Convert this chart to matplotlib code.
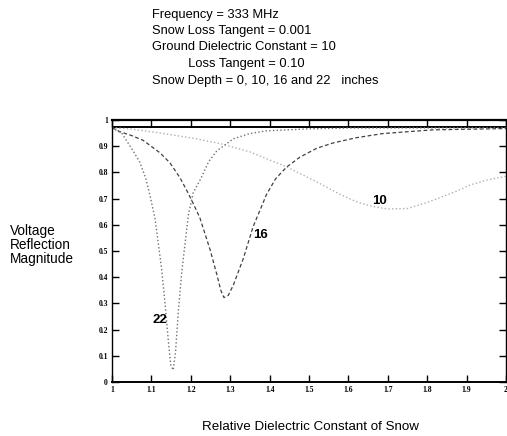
import numpy as np
import matplotlib
matplotlib.use('Agg')
import matplotlib.pyplot as plt

# (relative dielectric constant of snow vs |reflection|)
eps_0 = [1.0, 2.0]
mag_0 = [0.972, 0.972]

eps_10 = [1.0, 1.05, 1.122, 1.206, 1.274, 1.35, 1.444, 1.52, 1.58, 1.62, 1.66,
          1.70, 1.75, 1.80, 1.865, 1.91, 1.95, 2.0]
mag_10 = [0.970, 0.965, 0.950, 0.930, 0.910, 0.878, 0.82, 0.763, 0.715, 0.688,
          0.67, 0.66, 0.662, 0.685, 0.722, 0.752, 0.77, 0.785]

eps_16 = [1.0, 1.02, 1.05, 1.079, 1.122, 1.147, 1.173, 1.193, 1.208, 1.223,
          1.249, 1.266, 1.276, 1.284, 1.295, 1.308, 1.333, 1.358, 1.392, 1.415,
          1.443, 1.477, 1.52, 1.561, 1.62, 1.688, 1.815, 2.0]
mag_16 = [0.970, 0.955, 0.940, 0.922, 0.874, 0.836, 0.778, 0.721, 0.675, 0.626,
          0.504, 0.41, 0.35, 0.322, 0.33, 0.37, 0.47, 0.592, 0.715, 0.775,
          0.82, 0.858, 0.892, 0.912, 0.932, 0.948, 0.962, 0.967]

eps_22 = [1.0, 1.025, 1.05, 1.07, 1.085, 1.095, 1.109, 1.126, 1.135, 1.143,
          1.149, 1.155, 1.161, 1.168, 1.177, 1.194, 1.206, 1.225, 1.245, 1.266,
          1.308, 1.35, 1.39, 1.5, 1.6, 2.0]
mag_22 = [0.970, 0.948, 0.89, 0.84, 0.78, 0.72, 0.625, 0.43, 0.29, 0.155,
          0.065, 0.045, 0.11, 0.265, 0.42, 0.64, 0.722, 0.775, 0.84, 0.882,
          0.928, 0.948, 0.958, 0.966, 0.969, 0.970]

depth_labels = ['10', '16', '22']
label_pos = [(1.68, 0.69), (1.378, 0.56), (1.122, 0.237)]

header = ['Frequency = 333 MHz',
          'Snow Loss Tangent = 0.001',
          'Ground Dielectric Constant = 10',
          '          Loss Tangent = 0.10',
          'Snow Depth = 0, 10, 16 and 22   inches']

# setup figure
fig = plt.figure(figsize=(5.07, 4.36), dpi=100)
ax = fig.add_axes([0.221, 0.124, 0.777, 0.601])

ax.plot(eps_0, mag_0, '-', color='black', lw=1.4)
ax.plot(eps_10, mag_10, ':', color='#b0b0b0', lw=1.0)
ax.plot(eps_16, mag_16, '--', color='#404040', lw=0.9, dashes=(3, 2))
ax.plot(eps_22, mag_22, ':', color='#707070', lw=1.0)

for lab, (x, y) in zip(depth_labels, label_pos):
    ax.text(x, y, lab, fontsize=9.5, family='Liberation Sans', weight='bold',
            ha='center', va='center')

ax.set_xlim(1, 2)
ax.set_ylim(0, 1)
ax.set_xticks(np.arange(1, 2.01, 0.1))
ax.set_yticks(np.arange(0, 1.01, 0.1))
ax.set_xticklabels(['1', '1.1', '1.2', '1.3', '1.4', '1.5', '1.6', '1.7',
                    '1.8', '1.9', '2'])
ax.set_yticklabels(['0', '0.1', '0.2', '0.3', '0.4', '0.5', '0.6', '0.7',
                    '0.8', '0.9', '1'])
ax.tick_params(direction='in', length=5, width=1.0, top=True, right=True,
               labelsize=5.5, pad=3)
for lbl in ax.get_xticklabels() + ax.get_yticklabels():
    lbl.set_family('Liberation Serif')
    lbl.set_weight('bold')
for s in ax.spines.values():
    s.set_linewidth(1.0)
ax.spines['top'].set_linewidth(1.6)
ax.spines['bottom'].set_linewidth(1.4)

# header block
ys = [15, 31, 47, 64, 81]
for txt, yp in zip(header, ys):
    fig.text(152 / 507, 1 - yp / 436, txt, fontsize=9.3, family='Liberation Sans',
             ha='left', va='center')

fig.text(10 / 507, 1 - 245 / 436, 'Voltage\nReflection\nMagnitude', fontsize=9.8,
         family='Liberation Sans', ha='left', va='center', linespacing=1.0)
fig.text(310 / 507, 1 - 427 / 436, 'Relative Dielectric Constant of Snow',
         fontsize=9.6, family='Liberation Sans', ha='center', va='center')

fig.savefig('out.png', dpi=100)
